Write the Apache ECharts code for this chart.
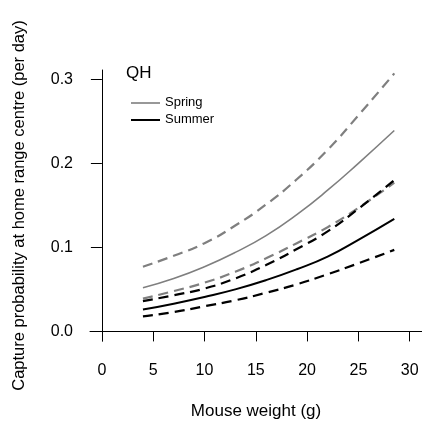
<!DOCTYPE html>
<html>
<head>
<meta charset="utf-8">
<script src="https://cdn.jsdelivr.net/npm/echarts@6/dist/echarts.min.js"></script>
<style>
  html, body { margin: 0; padding: 0; background: #fff; }
  #chart { width: 422px; height: 425px; }
</style>
</head>
<body>
<div id="chart"></div>
<script>
// mouse weight (g) where the curves were read
const weights = [4, 7, 10, 13, 16, 19, 22, 25, 28.5]

// spring: estimate and 95% bounds
const springMean = [0.052, 0.063, 0.077, 0.094, 0.114, 0.139, 0.168, 0.200, 0.239]
const springUpper = [0.077, 0.090, 0.105, 0.126, 0.151, 0.181, 0.216, 0.257, 0.307]
const springLower = [0.039, 0.048, 0.058, 0.071, 0.087, 0.105, 0.124, 0.147, 0.177]

// summer: estimate and 95% bounds
const summerMean = [0.026, 0.033, 0.041, 0.050, 0.061, 0.074, 0.089, 0.109, 0.134]
const summerUpper = [0.036, 0.043, 0.051, 0.063, 0.079, 0.098, 0.119, 0.146, 0.180]
const summerLower = [0.018, 0.023, 0.030, 0.037, 0.046, 0.056, 0.068, 0.081, 0.097]

const xTicks = [0, 5, 10, 15, 20, 25, 30]
const yTicks = [0, 0.1, 0.2, 0.3]

const font = "'Liberation Sans', Arial, sans-serif"
const grey = '#7f7f7f'

const pairs = ys => weights.map((w, i) => [w, ys[i]])

const line = (name, ys, color, width, dashed) => ({
  name: name,
  type: 'line',
  data: pairs(ys),
  smooth: true,
  showSymbol: false,
  silent: true,
  lineStyle: {
    color: color,
    width: width,
    type: dashed ? [10, 6] : 'solid',
  },
})

const chart = echarts.init(document.getElementById('chart'))

const option = {
  animation: false,
  backgroundColor: '#fff',
  grid: {
    left: 90,
    top: 70,
    right: -2,
    bottom: 83,
  },
  xAxis: {
    type: 'value',
    min: -1.16,
    max: 31.2,
    name: 'Mouse weight (g)',
    nameLocation: 'middle',
    nameGap: 62,
    nameTextStyle: { fontFamily: font, fontSize: 17, color: '#000' },
    axisLine: { lineStyle: { color: '#000', width: 1 } },
    axisTick: { show: true, length: 10, customValues: xTicks, lineStyle: { color: '#000' } },
    axisLabel: {
      customValues: xTicks,
      margin: 22,
      fontFamily: font,
      fontSize: 16,
      color: '#000',
    },
    splitLine: { show: false },
  },
  yAxis: {
    type: 'value',
    min: -0.0114,
    max: 0.311,
    name: 'Capture probability at home range centre (per day)',
    nameLocation: 'middle',
    nameGap: 62,
    nameTextStyle: { fontFamily: font, fontSize: 16.5, color: '#000' },
    axisLine: { show: true, lineStyle: { color: '#000', width: 1 } },
    axisTick: { show: true, length: 11, customValues: yTicks, lineStyle: { color: '#000' } },
    axisLabel: {
      customValues: yTicks,
      margin: 17,
      fontFamily: font,
      fontSize: 16,
      color: '#000',
      formatter: v => v.toFixed(1),
    },
    splitLine: { show: false },
  },
  series: [
    line('Spring upper', springUpper, grey, 2.2, true),
    line('Spring', springMean, grey, 1.6, false),
    line('Spring lower', springLower, grey, 2.2, true),
    line('Summer upper', summerUpper, '#000', 2.2, true),
    line('Summer', summerMean, '#000', 2, false),
    line('Summer lower', summerLower, '#000', 2.2, true),
  ],
  graphic: [
    {
      type: 'text', left: 126, top: 65,
      style: { text: 'QH', font: '17px ' + font, fill: '#000' },
    },
    {
      type: 'line', shape: { x1: 131, y1: 103, x2: 160, y2: 103 },
      style: { stroke: grey, lineWidth: 1.6 },
    },
    {
      type: 'text', left: 165, top: 96,
      style: { text: 'Spring', font: '13px ' + font, fill: '#000' },
    },
    {
      type: 'line', shape: { x1: 131, y1: 120, x2: 160, y2: 120 },
      style: { stroke: '#000', lineWidth: 2 },
    },
    {
      type: 'text', left: 165, top: 113,
      style: { text: 'Summer', font: '13px ' + font, fill: '#000' },
    },
  ],
}

chart.setOption(option)
</script>
</body>
</html>
